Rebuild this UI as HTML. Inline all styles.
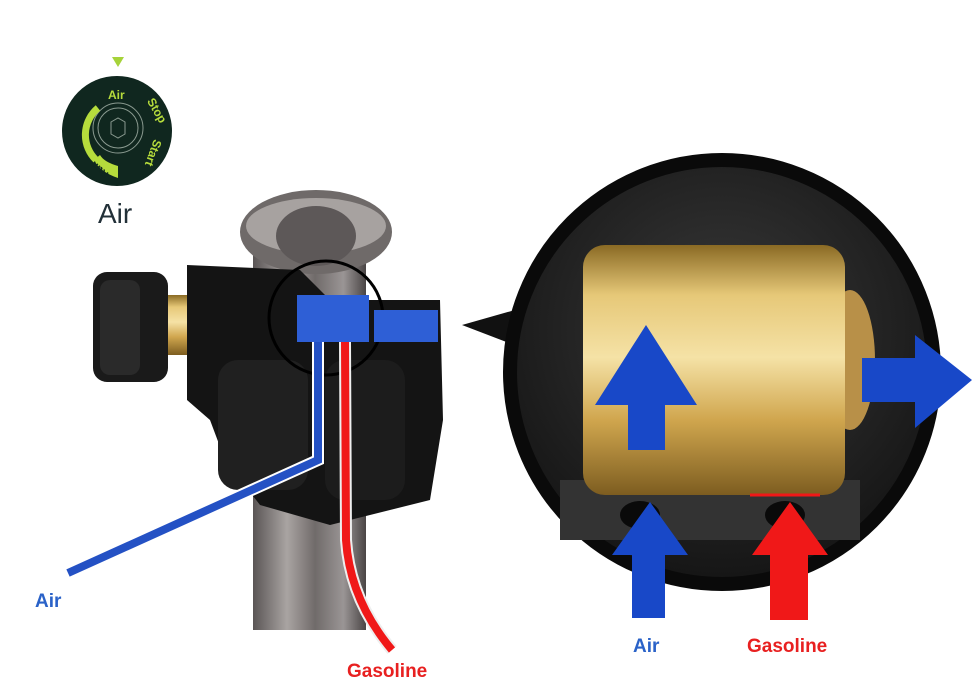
<!DOCTYPE html>
<html><head><style>
body{margin:0;background:#fff;}
svg{display:block;font-family:"Liberation Sans",sans-serif;}
</style></head><body>
<svg width="975" height="697" viewBox="0 0 975 697" xmlns="http://www.w3.org/2000/svg">
<defs>
<linearGradient id="pole" x1="0" x2="1" y1="0" y2="0">
<stop offset="0" stop-color="#5a5555"/><stop offset="0.3" stop-color="#a9a4a2"/><stop offset="0.55" stop-color="#706b6a"/><stop offset="0.8" stop-color="#9a9595"/><stop offset="1" stop-color="#4a4545"/>
</linearGradient>
<linearGradient id="brass" x1="0" x2="0" y1="0" y2="1">
<stop offset="0" stop-color="#8a6a24"/><stop offset="0.2" stop-color="#e6c878"/><stop offset="0.45" stop-color="#f5e2a6"/><stop offset="0.7" stop-color="#d0a64e"/><stop offset="1" stop-color="#7d5d20"/>
</linearGradient>
<radialGradient id="inside" cx="0.5" cy="0.4" r="0.6">
<stop offset="0" stop-color="#3a3a3a"/><stop offset="1" stop-color="#151515"/>
</radialGradient>
</defs>

<!-- dial -->
<polygon points="112,57 124,57 118,67" fill="#a6d33a"/>
<circle cx="117" cy="131" r="55" fill="#10271f"/>
<circle cx="118" cy="128" r="25" fill="none" stroke="#8a9a90" stroke-width="1"/>
<circle cx="118" cy="128" r="20" fill="none" stroke="#8a9a90" stroke-width="1"/>
<polygon points="111,122 118,118 125,122 125,134 118,138 111,134" fill="none" stroke="#8a9a90"/>
<path d="M98,108 A35,35 0 0 0 96,160" fill="none" stroke="#b6dc3c" stroke-width="7"/>
<path d="M94,160 Q100,172 118,178 L118,166 Q104,162 100,155 Z" fill="#b6dc3c"/>
<text x="108" y="99" fill="#b6dc3c" font-size="12" font-weight="bold">Air</text>
<text x="138" y="104" fill="#b6dc3c" font-size="12" font-weight="bold" transform="rotate(60 145 110)">Stop</text>
<text x="138" y="150" fill="#b6dc3c" font-size="12" font-weight="bold" transform="rotate(110 150 150)">Start</text>
<text x="100" y="160" fill="#10271f" font-size="10" font-weight="bold" transform="rotate(-140 107 165)">Run</text>
<text x="98" y="223" fill="#223038" font-size="28">Air</text>

<!-- pole & cap -->
<rect x="253" y="240" width="113" height="390" fill="url(#pole)"/>
<ellipse cx="316" cy="232" rx="76" ry="42" fill="#6f6a69"/>
<ellipse cx="316" cy="226" rx="70" ry="28" fill="#a7a2a0"/>
<ellipse cx="316" cy="236" rx="40" ry="30" fill="#5d5858"/>

<!-- brass shaft and knob -->
<rect x="160" y="295" width="32" height="60" fill="url(#brass)"/>
<rect x="93" y="272" width="75" height="110" rx="14" fill="#1a1a1a"/>
<rect x="100" y="280" width="40" height="95" rx="10" fill="#2a2a2a"/>

<!-- black body -->
<path d="M187,265 L300,270 L330,300 L440,300 L443,420 L430,500 L330,525 L260,505 L225,460 L210,420 L187,400 Z" fill="#141414"/>
<rect x="218" y="360" width="90" height="130" rx="20" fill="#202020"/>
<rect x="325" y="360" width="80" height="140" rx="20" fill="#1c1c1c"/>

<circle cx="326" cy="318" r="57" fill="none" stroke="#000" stroke-width="3"/>

<!-- blue fitting -->
<rect x="297" y="295" width="72" height="47" fill="#2e5fd6"/>
<rect x="374" y="310" width="64" height="32" fill="#2e5fd6"/>

<!-- lines -->
<path d="M318,342 L318,460 L68,573" fill="none" stroke="#fff" stroke-width="12"/>
<path d="M318,342 L318,460 L68,573" fill="none" stroke="#2451c4" stroke-width="8"/>
<path d="M345,342 L346,540 Q350,600 392,650" fill="none" stroke="#eee" stroke-width="12"/>
<path d="M345,342 L346,540 Q350,600 392,650" fill="none" stroke="#f01818" stroke-width="8"/>

<text x="35" y="607" fill="#2a62c8" font-size="19" font-weight="bold">Air</text>
<text x="347" y="677" fill="#e82020" font-size="19" font-weight="bold">Gasoline</text>

<!-- big circle -->
<polygon points="462,325 522,308 522,348" fill="#111"/>
<circle cx="722" cy="372" r="212" fill="url(#inside)" stroke="#0a0a0a" stroke-width="14"/>
<rect x="560" y="480" width="300" height="60" fill="#333"/>
<ellipse cx="850" cy="360" rx="25" ry="70" fill="#b89048"/>
<rect x="583" y="245" width="262" height="250" rx="22" fill="url(#brass)"/>
<ellipse cx="640" cy="515" rx="20" ry="14" fill="#0a0a0a"/>
<ellipse cx="785" cy="515" rx="20" ry="14" fill="#0a0a0a"/>
<line x1="750" y1="495" x2="820" y2="495" stroke="#f01818" stroke-width="3"/>

<!-- arrows -->
<polygon points="628,450 665,450 665,405 697,405 646,325 595,405 628,405" fill="#1848c8"/>
<polygon points="862,358 915,358 915,335 972,380 915,428 915,402 862,402" fill="#1848c8"/>
<polygon points="632,618 665,618 665,555 688,555 650,502 612,555 632,555" fill="#1848c8"/>
<polygon points="770,620 808,620 808,555 828,555 790,502 752,555 770,555" fill="#f01818"/>

<text x="633" y="652" fill="#2a62c8" font-size="19" font-weight="bold">Air</text>
<text x="747" y="652" fill="#e82020" font-size="19" font-weight="bold">Gasoline</text>
</svg>
</body></html>
